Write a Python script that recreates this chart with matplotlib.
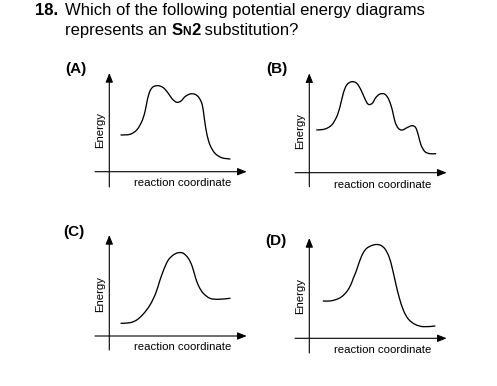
import matplotlib
matplotlib.use('Agg')
import matplotlib.pyplot as plt
from matplotlib.path import Path
from matplotlib.patches import PathPatch

plt.rcParams['font.family'] = ['Liberation Sans', 'DejaVu Sans']

# question text
question_number = '18.'
question_line1 = 'Which of the following potential energy diagrams'
question_line2_start = 'represents an '
question_line2_end = ' substitution?'

panel_labels = ['(A)', '(B)', '(C)', '(D)']
x_axis_label = 'reaction coordinate'
y_axis_label = 'Energy'

# energy profiles (reaction coordinate, energy)
rc_a = [1.17, 2.07, 2.74, 3.24, 3.57, 3.8, 4.07, 4.4, 4.9, 5.4, 5.9, 6.3, 6.74,
        7.17, 7.57, 8.07, 8.57, 8.97, 9.3, 9.5, 9.74, 10.07, 10.57, 11.24, 12.07]
energy_a = [3.67, 3.74, 4.17, 5.0, 6.0, 7.17, 8.07, 8.5, 8.6, 8.4, 7.84, 7.27, 6.94,
            7.07, 7.5, 7.77, 7.74, 7.4, 6.67, 5.34, 3.84, 2.67, 1.84, 1.4, 1.27]

rc_b = [0.74, 1.57, 2.24, 2.74, 3.07, 3.4, 3.74, 4.24, 4.74, 5.17, 5.57, 5.9, 6.3,
        6.64, 7.07, 7.57, 7.97, 8.3, 8.57, 8.9, 9.3, 9.84, 10.3, 10.64, 10.9, 11.17,
        11.57, 12.07, 12.64]
energy_b = [4.27, 4.37, 4.77, 5.6, 6.6, 7.94, 8.77, 9.1, 8.94, 8.27, 7.37, 6.84, 6.94,
            7.5, 7.87, 7.84, 7.27, 6.27, 5.1, 4.44, 4.27, 4.54, 4.7, 4.5, 3.77, 2.77,
            2.1, 1.9, 1.9]

rc_c = [1.17, 2.07, 2.74, 3.4, 4.07, 4.64, 5.07, 5.5, 5.9, 6.4, 6.9, 7.4, 7.9, 8.3,
        8.64, 8.97, 9.4, 10.07, 10.9, 12.07]
energy_c = [1.27, 1.33, 1.6, 2.2, 3.1, 4.27, 5.6, 6.77, 7.6, 8.1, 8.33, 8.27, 7.77,
            6.93, 5.77, 4.93, 4.27, 3.77, 3.67, 3.77]

rc_d = [1.4, 2.07, 2.74, 3.24, 3.74, 4.14, 4.4, 4.67, 4.9, 5.14, 5.4, 5.74, 6.24,
        6.74, 7.17, 7.57, 7.97, 8.3, 8.64, 8.97, 9.4, 9.9, 10.57, 11.4, 12.57]
energy_d = [3.73, 3.73, 3.9, 4.16, 4.66, 5.33, 6.0, 6.66, 7.33, 8.0, 8.56, 9.0, 9.28,
            9.38, 9.28, 8.93, 8.16, 7.0, 5.5, 4.16, 2.83, 1.93, 1.4, 1.16, 1.23]

curves = [(rc_a, energy_a), (rc_b, energy_b), (rc_c, energy_c), (rc_d, energy_d)]


def smooth_path(xs, ys):
    # cubic bezier path through the read points (Catmull-Rom handles)
    pts = list(zip(xs, ys))
    verts = [pts[0]]
    codes = [Path.MOVETO]
    n = len(pts)
    for k in range(n - 1):
        p0 = pts[max(k - 1, 0)]
        p1 = pts[k]
        p2 = pts[k + 1]
        p3 = pts[min(k + 2, n - 1)]
        c1 = (p1[0] + (p2[0] - p0[0]) / 6, p1[1] + (p2[1] - p0[1]) / 6)
        c2 = (p2[0] - (p3[0] - p1[0]) / 6, p2[1] - (p3[1] - p1[1]) / 6)
        verts += [c1, c2, p2]
        codes += [Path.CURVE4] * 3
    return Path(verts, codes)


W, H = 497, 386
fig = plt.figure(figsize=(W / 100, H / 100), dpi=100)

# pixel position (from top-left) of each panel's axis origin
origins = [(109.3, 171.7), (309.3, 172.7), (109.3, 336.0), (309.3, 338.3)]
# label offsets per panel (local units)
label_pos = [(-4.43, 10.27), (-4.33, 10.37), (-4.63, 10.4), (-4.43, 9.73)]
arrow_tops = [9.87, 9.94, 10.1, 10.03]
arrow_bottoms = [-1.53, -1.4, -1.4, -1.47]
xlabel_y = [-1.13, -1.23, -1.07, -1.17]
SCALE = 10.0
XLIM = (-1.6, 14.0)
YLIM = (-1.7, 10.3)

for i, (rc, en) in enumerate(curves):
    ox, oy = origins[i]
    left = ox + XLIM[0] * SCALE
    top = oy - YLIM[1] * SCALE
    width = (XLIM[1] - XLIM[0]) * SCALE
    height = (YLIM[1] - YLIM[0]) * SCALE
    ax = fig.add_axes([left / W, (H - top - height) / H, width / W, height / H])
    ax.set_xlim(XLIM)
    ax.set_ylim(YLIM)
    ax.axis('off')

    ax.add_patch(PathPatch(smooth_path(rc, en), facecolor='none',
                           edgecolor='black', lw=0.95, capstyle='round'))

    arrow = dict(arrowstyle='-|>,head_length=0.55,head_width=0.22',
                 color='black', lw=0.8, shrinkA=0, shrinkB=0)
    ax.annotate('', xy=(13.74, 0), xytext=(-1.43, 0), arrowprops=arrow,
                annotation_clip=False)
    ax.annotate('', xy=(0, arrow_tops[i]), xytext=(0, arrow_bottoms[i]),
                arrowprops=arrow, annotation_clip=False)

    lx, ly = label_pos[i]
    ax.text(lx, ly, panel_labels[i], fontsize=11, fontweight='bold',
            ha='left', va='center', clip_on=False)
    ax.text(-0.93, 4.2, y_axis_label, fontsize=8.2, rotation=90,
            ha='center', va='center', clip_on=False)
    ax.text(7.32, xlabel_y[i], x_axis_label, fontsize=8.2,
            ha='center', va='center', clip_on=False)

# question title
title_size = 12
y1 = 1 - 15 / H
y2 = 1 - 35 / H
fig.text(35 / W, y1, question_number, fontsize=title_size,
         fontweight='bold', ha='left', va='baseline')
fig.text(65 / W, y1, question_line1, fontsize=title_size,
         ha='left', va='baseline')

renderer = fig.canvas.get_renderer()
t = fig.text(65 / W, y2, question_line2_start, fontsize=title_size,
             ha='left', va='baseline')
pieces = [('S', title_size, 'bold'), ('N', title_size * 0.72, 'bold'),
          ('2', title_size, 'bold'), (question_line2_end, title_size, 'normal')]
x_px = t.get_window_extent(renderer).x1
for txt, size, weight in pieces:
    t = fig.text(x_px / W, y2, txt, fontsize=size, fontweight=weight,
                 ha='left', va='baseline')
    x_px = t.get_window_extent(renderer).x1

fig.savefig('out.png', dpi=100)
